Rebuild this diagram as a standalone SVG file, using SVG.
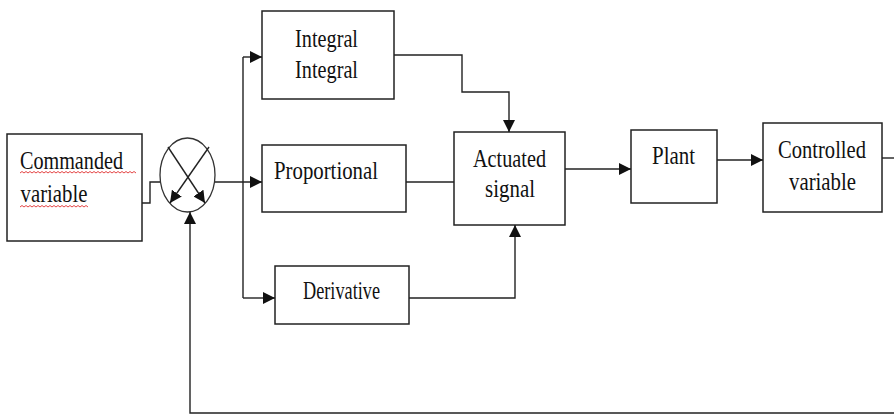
<svg xmlns="http://www.w3.org/2000/svg" width="894" height="416" viewBox="0 0 894 416">
<style>
.box{fill:#fff;stroke:#222;stroke-width:1.5}
.ln{fill:none;stroke:#222;stroke-width:1.4}
text{font-family:"Liberation Serif","Times New Roman",serif;font-size:26px;fill:#111}
.sq{fill:none;stroke:#e03030;stroke-width:0.9}
</style>
<defs>
<marker id="ah" markerUnits="userSpaceOnUse" markerWidth="13" markerHeight="12" refX="12" refY="6" orient="auto">
<path d="M0,0 L12,6 L0,12 Z" fill="#111"/>
</marker>
</defs>
<rect width="894" height="416" fill="#fff"/>
<g id="commanded">
<rect class="box" x="7" y="134" width="135" height="107"/>
<text x="20" y="169" textLength="103" lengthAdjust="spacingAndGlyphs">Commanded</text>
<text x="20.5" y="202" textLength="67" lengthAdjust="spacingAndGlyphs">variable</text>
<path class="sq" d="M20,173 l2,-1.5 l2,1.5 l2,-1.5 l2,1.5 l2,-1.5 l2,1.5 l2,-1.5 l2,1.5 l2,-1.5 l2,1.5 l2,-1.5 l2,1.5 l2,-1.5 l2,1.5 l2,-1.5 l2,1.5 l2,-1.5 l2,1.5 l2,-1.5 l2,1.5 l2,-1.5 l2,1.5 l2,-1.5 l2,1.5 l2,-1.5 l2,1.5 l2,-1.5 l2,1.5 l2,-1.5 l2,1.5 l2,-1.5 l2,1.5 l2,-1.5 l2,1.5 l2,-1.5 l2,1.5 l2,-1.5 l2,1.5 l2,-1.5 l2,1.5 l2,-1.5 l2,1.5 l2,-1.5 l2,1.5 l2,-1.5 l2,1.5 l2,-1.5 l2,1.5 l2,-1.5 l2,1.5 l2,-1.5 l2,1.5 l2,-1.5 l2,1.5 l2,-1.5 l2,1.5 l2,-1.5 l2,1.5"/>
<path class="sq" d="M20,207 l2,-1.5 l2,1.5 l2,-1.5 l2,1.5 l2,-1.5 l2,1.5 l2,-1.5 l2,1.5 l2,-1.5 l2,1.5 l2,-1.5 l2,1.5 l2,-1.5 l2,1.5 l2,-1.5 l2,1.5 l2,-1.5 l2,1.5 l2,-1.5 l2,1.5 l2,-1.5 l2,1.5 l2,-1.5 l2,1.5 l2,-1.5 l2,1.5 l2,-1.5 l2,1.5 l2,-1.5 l2,1.5 l2,-1.5 l2,1.5 l2,-1.5 l2,1.5"/>
</g>
<g id="summer">
<ellipse cx="187.5" cy="175" rx="27.5" ry="37" fill="#fff" stroke="#333" stroke-width="1.3"/>
<line class="ln" x1="168" y1="147" x2="205" y2="203" marker-end="url(#ah)"/>
<line class="ln" x1="209" y1="147" x2="170" y2="203" marker-end="url(#ah)"/>
</g>
<g id="integral">
<rect class="box" x="262" y="11" width="132" height="88"/>
<text x="295" y="47" textLength="63" lengthAdjust="spacingAndGlyphs">Integral</text>
<text x="295" y="78" textLength="63" lengthAdjust="spacingAndGlyphs">Integral</text>
</g>
<g id="proportional">
<rect class="box" x="262" y="145" width="144" height="67"/>
<text x="274" y="179" textLength="104" lengthAdjust="spacingAndGlyphs">Proportional</text>
</g>
<g id="derivative">
<rect class="box" x="275" y="266" width="134" height="58"/>
<text x="303" y="299" textLength="77" lengthAdjust="spacingAndGlyphs">Derivative</text>
</g>
<g id="actuated">
<rect class="box" x="454" y="132" width="111" height="93"/>
<text x="473" y="167" textLength="73" lengthAdjust="spacingAndGlyphs">Actuated</text>
<text x="485" y="197" textLength="50" lengthAdjust="spacingAndGlyphs">signal</text>
</g>
<g id="plant">
<rect class="box" x="631" y="130" width="86" height="73"/>
<text x="652" y="164" textLength="43" lengthAdjust="spacingAndGlyphs">Plant</text>
</g>
<g id="controlled">
<rect class="box" x="763" y="123" width="119" height="89"/>
<text x="778" y="158" textLength="88" lengthAdjust="spacingAndGlyphs">Controlled</text>
<text x="789" y="190" textLength="67" lengthAdjust="spacingAndGlyphs">variable</text>
</g>
<g id="connectors">
<polyline class="ln" points="142,203 150,203 150,182 160,182"/>
<line class="ln" x1="215" y1="182" x2="262" y2="182" marker-end="url(#ah)"/>
<line class="ln" x1="243" y1="57" x2="243" y2="298"/>
<line class="ln" x1="243" y1="57" x2="262" y2="57" marker-end="url(#ah)"/>
<line class="ln" x1="243" y1="298" x2="275" y2="298" marker-end="url(#ah)"/>
<polyline class="ln" points="394,55 462,55 462,92 509,92 509,132" marker-end="url(#ah)"/>
<line class="ln" x1="406" y1="182" x2="454" y2="182"/>
<polyline class="ln" points="409,298 515,298 515,225" marker-end="url(#ah)"/>
<line class="ln" x1="565" y1="169" x2="631" y2="169" marker-end="url(#ah)"/>
<line class="ln" x1="717" y1="160" x2="763" y2="160" marker-end="url(#ah)"/>
<line class="ln" x1="882" y1="158" x2="894" y2="158"/>
<polyline class="ln" points="894,413 190,413 190,212" marker-end="url(#ah)"/>
</g>
</svg>
